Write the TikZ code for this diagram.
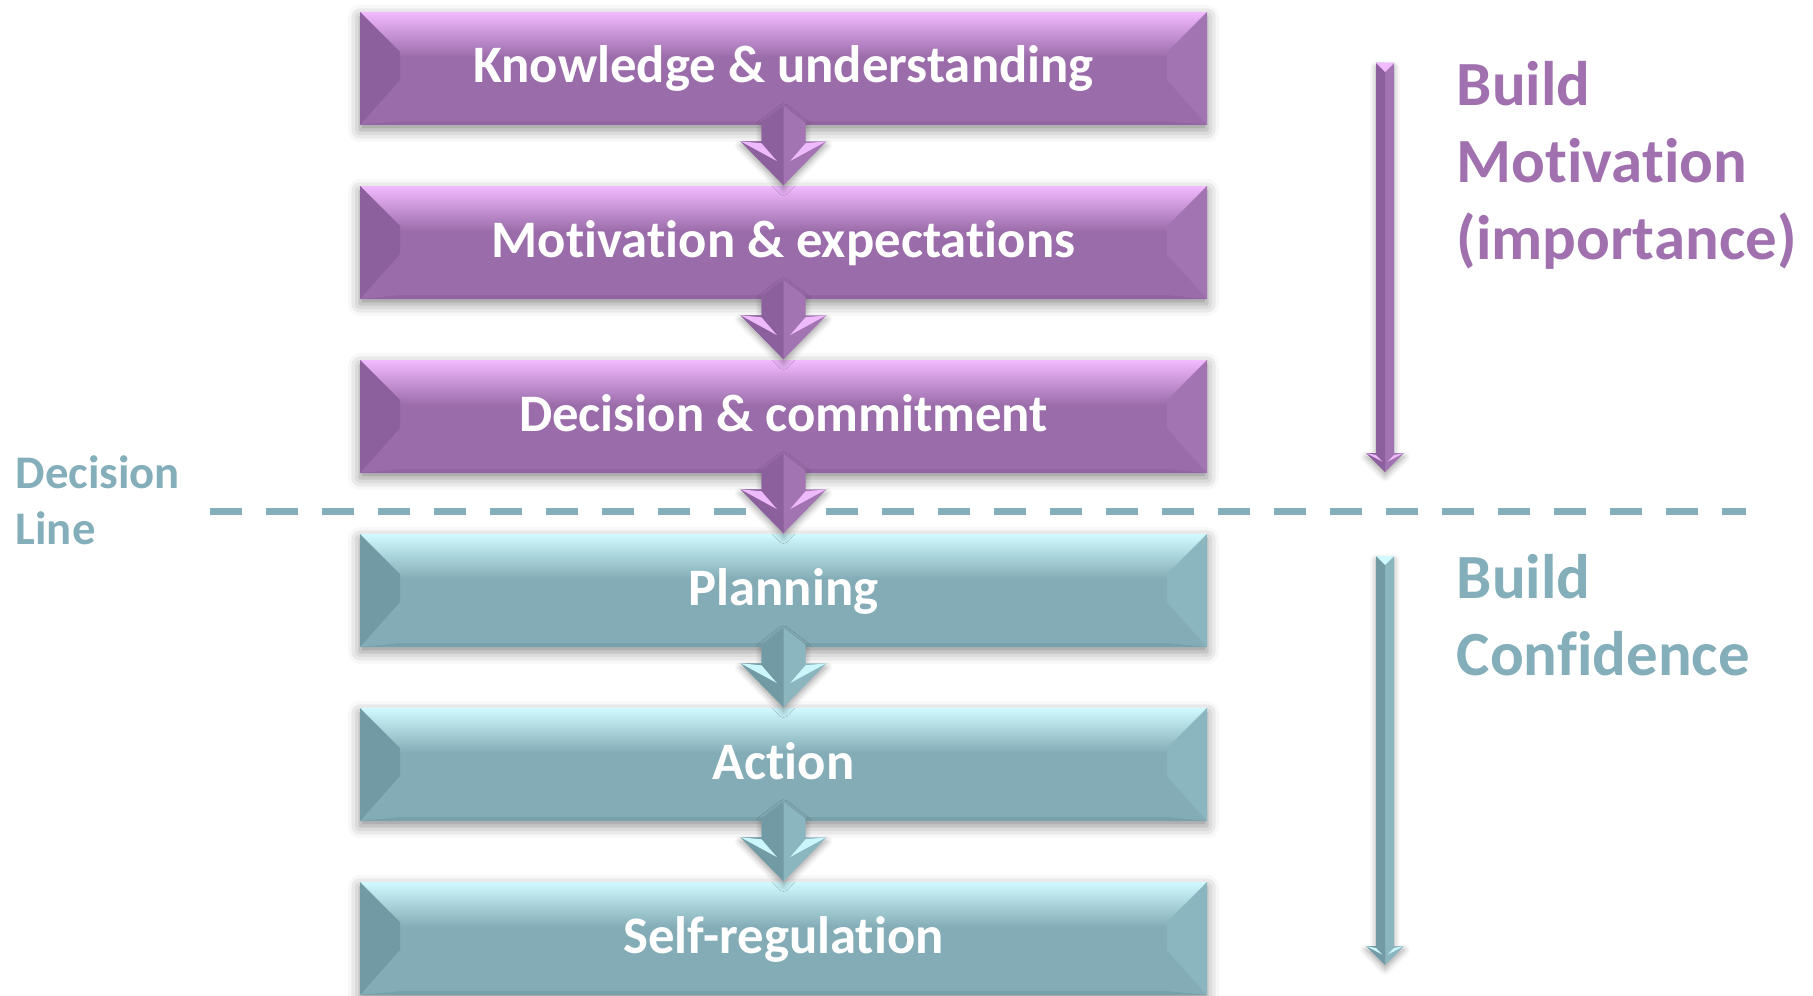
\documentclass[tikz,border=0pt]{standalone}
\usepackage{fontspec}
\setmainfont{Carlito}[Ligatures=NoCommon]
\usepackage{tikz}
\usetikzlibrary{calc,positioning,shadows.blur}

\definecolor{pmain}{RGB}{155,108,170}
\definecolor{plight}{RGB}{242,186,255}
\definecolor{pdark}{RGB}{140,96,156}
\definecolor{pside}{RGB}{163,116,178}
\definecolor{phigh}{RGB}{238,186,252}
\definecolor{tmain}{RGB}{131,172,182}
\definecolor{tlight}{RGB}{208,250,255}
\definecolor{tdark}{RGB}{114,154,164}
\definecolor{tside}{RGB}{139,181,191}
\definecolor{thigh}{RGB}{202,246,252}
\definecolor{ptext}{RGB}{160,112,175}
\definecolor{ttext}{RGB}{132,174,186}

% beveled down arrow: from, tip, half shaft, half head, head length, peak, colour prefix
\newcommand\bevelarrow[7]{%
  \coordinate (ba) at (#1);
  \coordinate (bb) at (#2);
  \fill[#7side,blur shadow={shadow xshift=0pt,shadow yshift=-0.04cm,shadow blur radius=0.06cm,shadow opacity=35}]
    (ba) -- ($(ba)+(-#3,-#6)$) -- ($(bb)+(-#3,#5)$) -- ($(bb)+(-#4,#5)$) -- (bb)
    -- ($(bb)+(#4,#5)$) -- ($(bb)+(#3,#5)$) -- ($(ba)+(#3,-#6)$) -- cycle;
  \fill[#7dark] (ba) -- ($(ba)+(-#3,-#6)$) -- ($(bb)+(-#3,#5)$) -- ($(bb)+(-#4,#5)$) -- (bb) -- cycle;
  \fill[#7high] ($(bb)+(-#4,#5)$) -- ($(bb)+({-#3},{#5-0.02})$) -- ($(bb)+({-0.3*#3},{0.55*#5})$) -- cycle;
  \fill[#7high] ($(bb)+(#4,#5)$) -- ($(bb)+({#3},{#5-0.02})$) -- ($(bb)+({0.3*#3},{0.55*#5})$) -- cycle;
}

\tikzset{
  bevel/.style={fill=#1main,
    path picture={
      \path (path picture bounding box.north west) coordinate (nw)
            (path picture bounding box.north east) coordinate (ne)
            (path picture bounding box.south west) coordinate (sw)
            (path picture bounding box.south east) coordinate (se);
      \shade[top color=#1light,bottom color=#1main]
        (nw) -- (ne) -- ($(ne)+(-0.4,-0.45)$) -- ($(nw)+(0.4,-0.45)$) -- cycle;
      \fill[#1dark] (nw) -- ($(nw)+(0.4,-0.4)$) -- ($(sw)+(0.4,0.45)$) -- (sw) -- cycle;
      \fill[#1side] (ne) -- ($(ne)+(-0.4,-0.4)$) -- ($(se)+(-0.4,0.45)$) -- (se) -- cycle;
      \fill[#1dark!60!#1main] (sw) -- ($(sw)+(0.4,0.04)$) -- ($(se)+(-0.4,0.04)$) -- (se) -- cycle;
    }},
  stage/.style={rectangle,minimum width=8.47cm,minimum height=1.13cm,inner sep=0pt,
    text=white,font=\bfseries\fontsize{15}{17}\selectfont,
    text height=0.40cm,text depth=0.11cm,
    blur shadow={shadow xshift=0pt,shadow yshift=-0.05cm,shadow blur radius=0.12cm,shadow opacity=45}},
  pbox/.style={stage,bevel=p},
  tbox/.style={stage,bevel=t},
  sidelabel/.style={anchor=north west,inner sep=0pt,align=left,
    font=\bfseries\fontsize{17.9}{21.9}\selectfont}
}

\begin{document}
\begin{tikzpicture}
\useasboundingbox (0,0) rectangle (18.13,9.95);

% decision line
\draw[ttext,line width=0.07cm,dash pattern=on 0.32cm off 0.24cm] (2.10,4.84) -- (17.46,4.84);
\node[anchor=north west,inner sep=0pt,align=left,ttext,
  font=\bfseries\fontsize{13.3}{15.9}\selectfont] (dline) at (0.15,5.40) {Decision\\Line};

% stages
\foreach \txt [count=\i] in {Knowledge \& understanding,Motivation \& expectations,Decision \& commitment}
  \node[pbox] (s\i) at (7.835,{9.265-1.74*(\i-1)}) {\txt};
\foreach \txt [count=\i from 4] in {Planning,Action,Self-regulation}
  \node[tbox] (s\i) at (7.835,{9.265-1.74*(\i-1)}) {\txt};

% arrows between stages
\foreach \a/\b/\c in {s1/s2/p,s2/s3/p,s3/s4/p,s4/s5/t,s5/s6/t}
  \bevelarrow{[yshift=2mm]\a.south}{\b.north}{0.22}{0.43}{0.44}{0.17}{\c};

% long arrows on the right
\coordinate (mtop) at (13.85,9.32);
\coordinate (mend) at (13.85,5.23);
\bevelarrow{mtop}{mend}{0.09}{0.19}{0.19}{0}{p}
\fill[plight] ($(mtop)+(-0.09,0)$) -- ($(mtop)+(0.09,0)$) -- ($(mtop)+(0,-0.09)$) -- cycle;
\coordinate (ctop) at (13.85,4.39);
\coordinate (cend) at (13.85,0.30);
\bevelarrow{ctop}{cend}{0.09}{0.19}{0.19}{0}{t}
\fill[tlight] ($(ctop)+(-0.09,0)$) -- ($(ctop)+(0.09,0)$) -- ($(ctop)+(0,-0.09)$) -- cycle;

\node[sidelabel,ptext] (motiv) at (14.56,9.34) {Build\\Motivation\\(importance)};
\node[sidelabel,ttext] (conf) at (14.56,4.41) {Build\\Confidence};

\end{tikzpicture}
\end{document}
